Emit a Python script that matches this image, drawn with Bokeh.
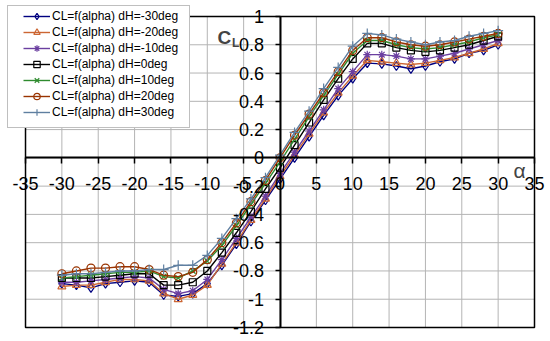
from bokeh.plotting import figure
from bokeh.models import (Range1d, FixedTicker, CustomJSTickFormatter, Legend, LegendItem, Label)
from bokeh.embed import file_html
from bokeh.resources import INLINE

alpha = [-30, -28, -26, -24, -22, -20, -18, -16, -14, -12, -10, -8, -6, -4, -2, 0,
         2, 4, 6, 8, 10, 12, 14, 16, 18, 20, 22, 24, 26, 28, 30]

cl_m30 = [-0.89, -0.90, -0.92, -0.89, -0.88, -0.87, -0.88, -0.97, -0.98, -0.96, -0.89, -0.76, -0.61, -0.45, -0.30, -0.15,
          0.00, 0.15, 0.30, 0.44, 0.56, 0.67, 0.665, 0.65, 0.63, 0.65, 0.68, 0.70, 0.74, 0.76, 0.80]
cl_m20 = [-0.91, -0.90, -0.90, -0.88, -0.86, -0.86, -0.87, -0.96, -1.00, -0.97, -0.90, -0.75, -0.60, -0.44, -0.29, -0.13,
          0.02, 0.17, 0.32, 0.46, 0.58, 0.69, 0.68, 0.67, 0.66, 0.67, 0.69, 0.71, 0.74, 0.77, 0.81]
cl_m10 = [-0.88, -0.88, -0.87, -0.86, -0.85, -0.84, -0.85, -0.93, -0.96, -0.94, -0.86, -0.72, -0.57, -0.42, -0.27, -0.11,
          0.04, 0.19, 0.34, 0.49, 0.61, 0.73, 0.73, 0.72, 0.70, 0.70, 0.72, 0.74, 0.77, 0.80, 0.83]
cl_0 = [-0.85, -0.85, -0.85, -0.84, -0.83, -0.82, -0.82, -0.90, -0.90, -0.88, -0.80, -0.67, -0.53, -0.38, -0.22, -0.07,
        0.09, 0.25, 0.41, 0.56, 0.70, 0.81, 0.81, 0.78, 0.76, 0.75, 0.76, 0.78, 0.80, 0.83, 0.86]
cl_p10 = [-0.85, -0.84, -0.83, -0.82, -0.81, -0.81, -0.80, -0.84, -0.85, -0.80, -0.73, -0.62, -0.48, -0.33, -0.18, -0.03,
          0.13, 0.29, 0.44, 0.59, 0.74, 0.83, 0.83, 0.80, 0.78, 0.77, 0.78, 0.80, 0.82, 0.85, 0.87]
cl_p20 = [-0.82, -0.80, -0.78, -0.78, -0.77, -0.77, -0.79, -0.83, -0.84, -0.81, -0.72, -0.60, -0.46, -0.31, -0.16, 0.00,
          0.16, 0.31, 0.46, 0.61, 0.76, 0.85, 0.85, 0.82, 0.80, 0.79, 0.80, 0.82, 0.84, 0.86, 0.88]
cl_p30 = [-0.83, -0.82, -0.82, -0.81, -0.80, -0.80, -0.79, -0.79, -0.76, -0.76, -0.69, -0.57, -0.43, -0.29, -0.14, 0.02,
          0.18, 0.33, 0.49, 0.64, 0.79, 0.88, 0.87, 0.84, 0.82, 0.80, 0.82, 0.83, 0.86, 0.88, 0.90]

labels = ["CL=f(alpha) dH=-30deg", "CL=f(alpha) dH=-20deg", "CL=f(alpha) dH=-10deg",
          "CL=f(alpha) dH=0deg", "CL=f(alpha) dH=10deg", "CL=f(alpha) dH=20deg",
          "CL=f(alpha) dH=30deg"]
series = [cl_m30, cl_m20, cl_m10, cl_0, cl_p10, cl_p20, cl_p30]
colors = ["#000080", "#CC6633", "#6B3FA0", "#000000", "#2E8B2E", "#993300", "#5F7FA0"]
markers = ["diamond", "triangle", "asterisk", "square", "x", "circle", "cross"]
msizes = [9, 8, 8, 7, 8, 8, 10]

x_ticks = [-35, -30, -25, -20, -15, -10, -5, 0, 5, 10, 15, 20, 25, 30, 35]
y_ticks = [-1.2, -1.0, -0.8, -0.6, -0.4, -0.2, 0.0, 0.2, 0.4, 0.6, 0.8, 1.0]
X_MIN, X_MAX = -35, 35
Y_MIN, Y_MAX = -1.2, 1.0

FONT = "Liberation Sans"

# the frame fills the whole canvas; the plot box is drawn explicitly, so that
# tick labels and the legend that sit outside the box are not clipped
p = figure(width=550, height=341, output_backend="svg", toolbar_location=None,
           x_range=Range1d(-38.44, 37.20), y_range=Range1d(-1.2991, 1.1132),
           min_border=0, min_border_left=0, min_border_right=0,
           min_border_top=0, min_border_bottom=0)
p.background_fill_color = "white"
p.border_fill_color = "white"
p.outline_line_color = None
p.xgrid.visible = False
p.ygrid.visible = False

# grid lines inside the plot box
p.segment(x0=x_ticks, x1=x_ticks, y0=[Y_MIN] * len(x_ticks), y1=[Y_MAX] * len(x_ticks),
          line_color="#b4b4b4", line_width=1)
p.segment(x0=[X_MIN] * len(y_ticks), x1=[X_MAX] * len(y_ticks), y0=y_ticks, y1=y_ticks,
          line_color="#b4b4b4", line_width=1)
# plot box outline
p.quad(left=[X_MIN], right=[X_MAX], bottom=[Y_MIN], top=[Y_MAX],
       fill_color=None, line_color="black", line_width=1.5)

fmt = CustomJSTickFormatter(code="return String(Math.round(tick*10)/10);")

for ax, ticks, tout, stand, bnds in ((p.xaxis[0], x_ticks, 6, 13, (X_MIN, X_MAX)),
                                      (p.yaxis[0], y_ticks, 5, 11, (Y_MIN, Y_MAX))):
    ax.fixed_location = 0
    ax.bounds = bnds
    ax.ticker = FixedTicker(ticks=ticks)
    ax.formatter = fmt
    ax.axis_line_width = 2
    ax.axis_line_color = "black"
    ax.major_tick_line_color = "black"
    ax.major_tick_line_width = 1.5
    ax.major_tick_out = tout
    ax.major_tick_in = 0
    ax.minor_tick_line_color = None
    ax.major_label_text_font = FONT
    ax.major_label_text_font_size = "18px"
    ax.major_label_text_color = "black"
    ax.major_label_standoff = stand

items = []
for lab, ys, c, m, s in zip(labels, series, colors, markers, msizes):
    lr = p.line(alpha, ys, line_color=c, line_width=1.4)
    sr = p.scatter(alpha, ys, marker=m, size=s, line_color=c, fill_color=None, line_width=1.2)
    items.append(LegendItem(label=lab, renderers=[lr, sr]))

# legend frame (an empty legend used as a bordered white box)
dummy = p.line(alpha[:2], cl_0[:2], line_alpha=0)
box_legend = Legend(items=[LegendItem(label=" ", renderers=[dummy])], location=(7, 213),
                    padding=0, spacing=0, margin=0, glyph_width=1, glyph_height=121,
                    label_width=180, label_height=121, label_standoff=0,
                    label_text_font_size="1px",
                    border_line_color="#808080", border_line_width=1,
                    background_fill_color="white", background_fill_alpha=1.0)
p.add_layout(box_legend)

legend = Legend(items=items, location=(23, 221), padding=0, spacing=0, margin=0,
                glyph_width=27, glyph_height=16, label_height=16, label_standoff=2,
                label_text_font=FONT, label_text_font_size="12px", label_text_color="black",
                border_line_alpha=0, background_fill_alpha=0)
p.add_layout(legend)

p.add_layout(Label(x=-8.6, y=0.851, text="C", text_font=FONT, text_font_style="bold",
                   text_font_size="19px", text_baseline="alphabetic"))
p.add_layout(Label(x=-6.6, y=0.816, text="L", text_font=FONT, text_font_style="bold",
                   text_font_size="12px", text_baseline="alphabetic"))
p.add_layout(Label(x=32.1, y=-0.09, text="α", text_font=FONT,
                   text_font_size="21px", text_baseline="alphabetic"))

open("out.html", "w").write(file_html(p, INLINE))
